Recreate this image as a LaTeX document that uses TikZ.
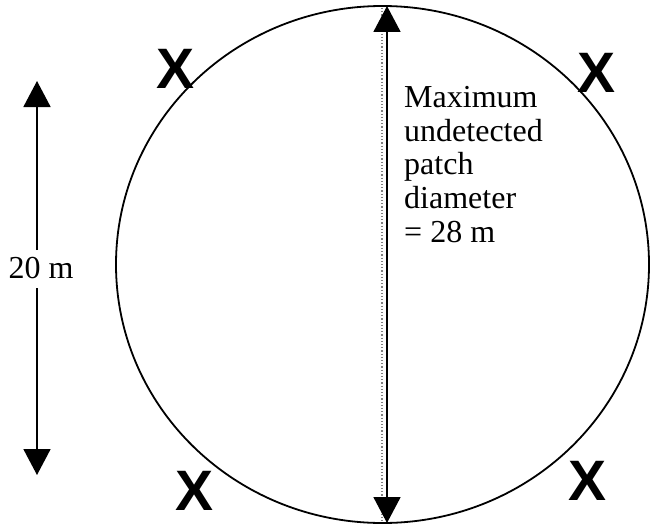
\documentclass[tikz,border=0pt]{standalone}
\usepackage{fontspec}
\setmainfont{Liberation Serif}
\newfontfamily\crossfont{Liberation Sans}
\usetikzlibrary{arrows.meta}

\begin{document}
\begin{tikzpicture}[
  x=1pt, y=-1pt,
  dimarrow/.style={{Triangle[length=26pt,width=27pt]}-{Triangle[length=26pt,width=27pt]}, line width=1.8pt},
  halfarrow/.style={-{Triangle[length=26pt,width=27pt]}, line width=1.8pt},
  label/.style={inner sep=0pt, font=\fontsize{32}{33.8}\selectfont},
  cross/.style={inner sep=0pt, font=\crossfont\bfseries\fontsize{57}{57}\selectfont}
]
\useasboundingbox (0,0) rectangle (650,527);
% the patch
\draw[line width=1.8pt] (382.5,264.5) ellipse [x radius=266.5, y radius=258.5];
% diameter
\coordinate (top) at (387,6);
\coordinate (bot) at (387,523);
\draw[gray, line width=1.2pt, dotted] (382,8) -- (382,521);
\draw[dimarrow] (top) -- (bot);
\node[label, anchor=north west, align=left] (diam) at (404,86)
  {Maximum\\undetected\\patch\\diameter\\= 28 m};
% spacing of the detectors
\coordinate (lt) at (37,81);
\coordinate (lb) at (37,475);
\node[label] (len) at (41,268) {20 m};
\draw[halfarrow] (37,250) -- (lt);
\draw[halfarrow] (37,288) -- (lb);
% detectors
\node[cross] (x1) at (176,69) {X};
\node[cross] (x2) at (597,73) {X};
\node[cross] (x3) at (195,491) {X};
\node[cross] (x4) at (588,481) {X};
\end{tikzpicture}
\end{document}
